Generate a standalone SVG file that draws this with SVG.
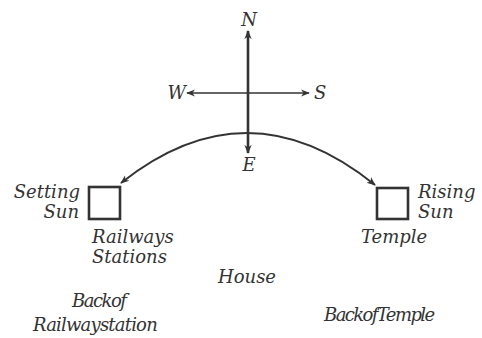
<svg xmlns="http://www.w3.org/2000/svg" width="482" height="338" viewBox="0 0 482 338">
<style>
text{font-family:"DejaVu Serif","Liberation Serif",serif;font-style:italic;font-size:18px;fill:#333}
.ln{stroke:#333;fill:none}
</style>
<defs>
<marker id="ah" viewBox="0 0 10 10" refX="9" refY="5" markerWidth="9" markerHeight="9" markerUnits="userSpaceOnUse" orient="auto-start-reverse">
<path d="M0,1 L10,5 L0,9 L3,5 Z" fill="#333"/>
</marker>
</defs>
<rect width="482" height="338" fill="#fff"/>
<g id="connectors">
<line class="ln" x1="248" y1="31" x2="248" y2="153" stroke-width="2.6" marker-start="url(#ah)" marker-end="url(#ah)"/>
<line class="ln" x1="187" y1="93" x2="309" y2="93" stroke-width="1.6" marker-start="url(#ah)" marker-end="url(#ah)"/>
<path class="ln" d="M121,183 Q248,82 375,185" stroke-width="2" marker-start="url(#ah)" marker-end="url(#ah)"/>
</g>
<g id="compass">
<text x="249" y="26" text-anchor="middle">N</text>
<text x="186" y="99" text-anchor="end">W</text>
<text x="314" y="99">S</text>
<text x="249" y="171" text-anchor="middle">E</text>
</g>
<g id="setting-sun">
<rect x="89" y="187" width="31" height="32" class="ln" stroke-width="2.6"/>
<text x="80" y="198" text-anchor="end">Setting</text>
<text x="79" y="218" text-anchor="end">Sun</text>
</g>
<g id="rising-sun">
<rect x="377" y="188" width="31" height="31" class="ln" stroke-width="2.6"/>
<text x="418" y="198">Rising</text>
<text x="418" y="218">Sun</text>
</g>
<g id="railways-stations">
<text x="92" y="243">Railways</text>
<text x="92" y="263">Stations</text>
</g>
<g id="temple">
<text x="361" y="243">Temple</text>
</g>
<g id="house">
<text x="218" y="283">House</text>
</g>
<g id="back-of-railway-station">
<text x="72" y="307" letter-spacing="-1.5">Backof</text>
<text x="33" y="331" letter-spacing="-0.8">Railwaystation</text>
</g>
<g id="back-of-temple">
<text x="324" y="321" letter-spacing="-1.6">BackofTemple</text>
</g>
</svg>
